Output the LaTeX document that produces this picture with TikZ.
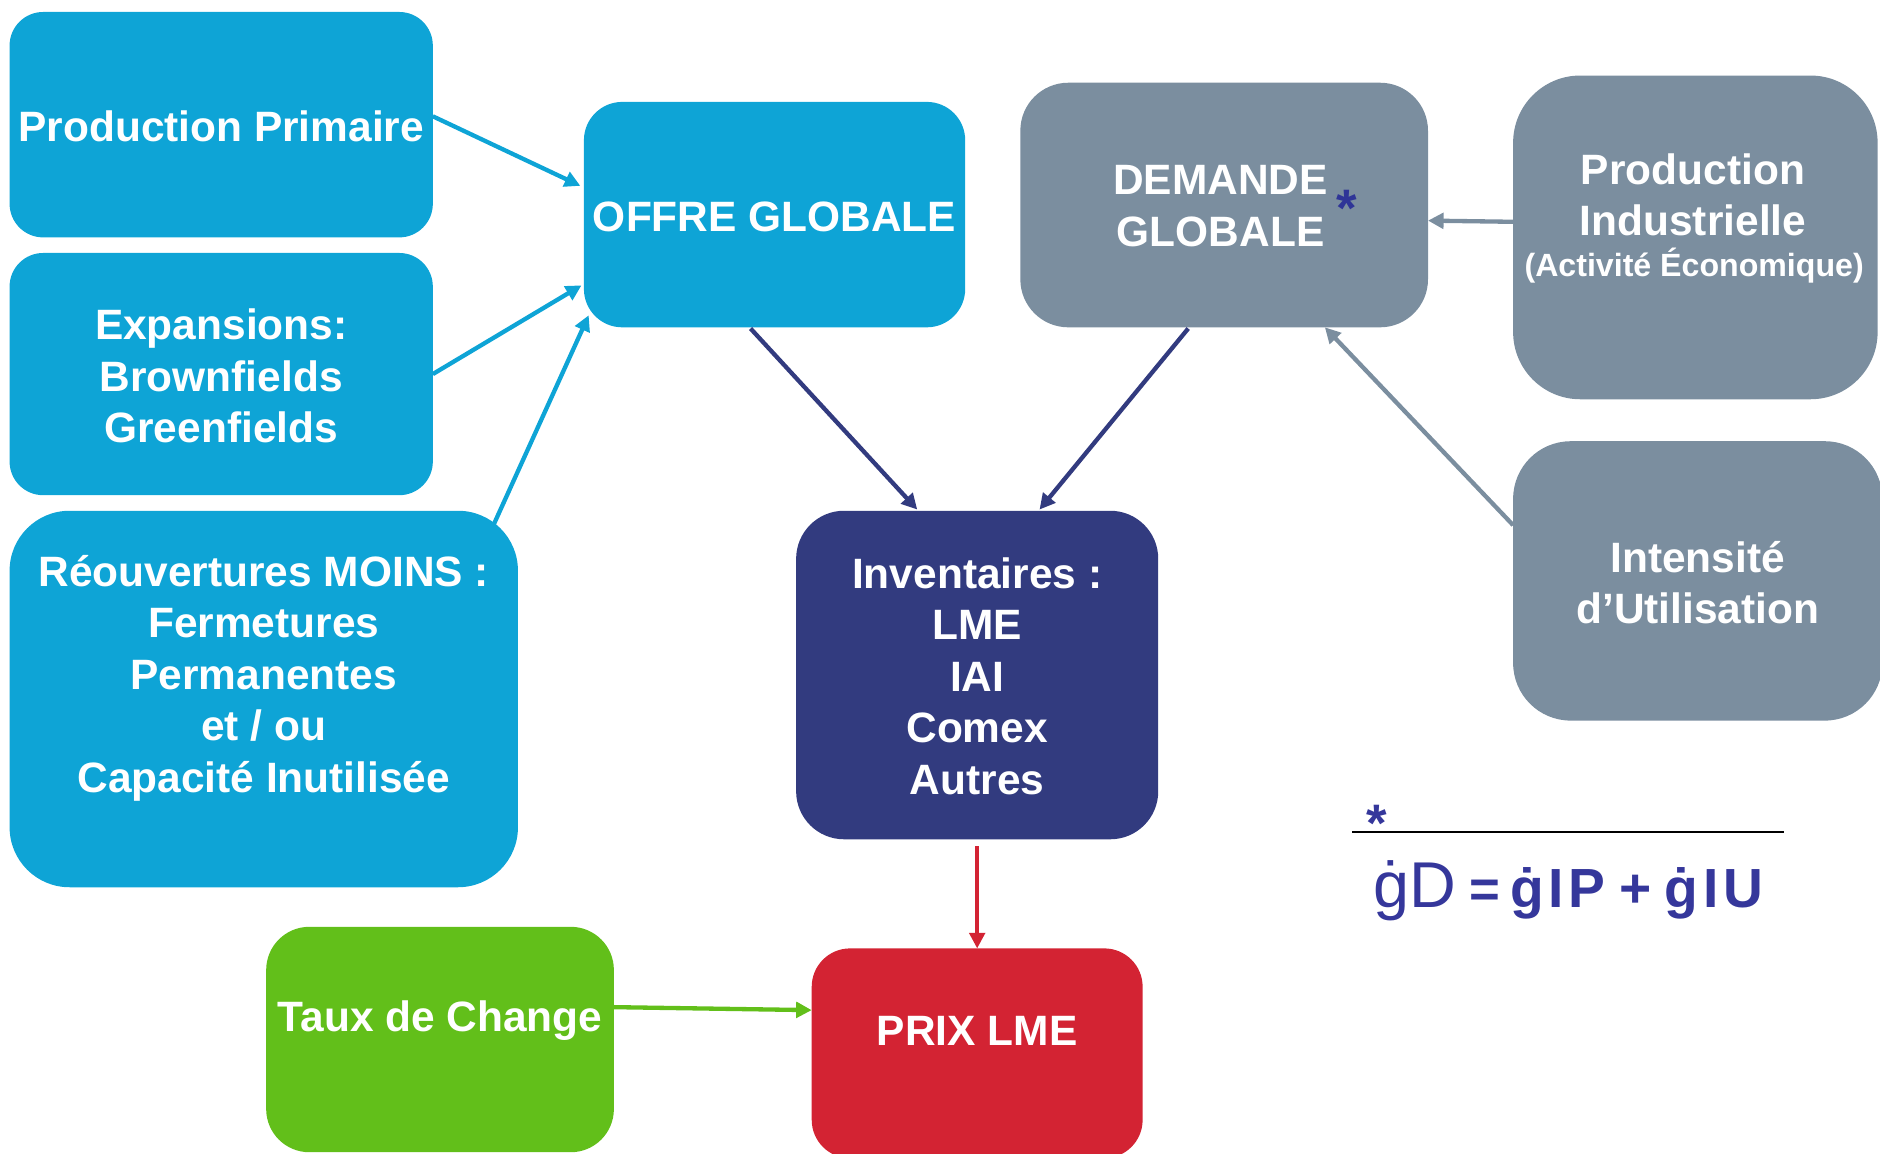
\documentclass[tikz,border=0pt]{standalone}
\usepackage{fontspec}
\setmainfont{Liberation Sans}
\usetikzlibrary{arrows.meta,calc}
\definecolor{cyanb}{HTML}{0EA4D6}
\definecolor{grayb}{HTML}{7B8E9F}
\definecolor{navyb}{HTML}{323B7F}
\definecolor{greenb}{HTML}{62BF1A}
\definecolor{redb}{HTML}{D32333}
\definecolor{formblue}{HTML}{35379B}
\definecolor{starblue}{HTML}{2F3597}
\begin{document}
\begin{tikzpicture}[x=0.5pt,y=-0.5pt,
  box/.style={rectangle, inner sep=0pt, outer sep=0pt, draw=none},
  lbl/.style={text=white, font=\bfseries\fontsize{17.7}{21.5}\selectfont, align=center, inner sep=0pt},
  small/.style={text=white, font=\bfseries\fontsize{13.4}{16}\selectfont, inner sep=0pt},
  ar/.style={line width=1.8pt, -{Triangle[length=6.5pt,width=6.5pt]}},
  star/.style={text=starblue, font=\bfseries\fontsize{22}{22}\selectfont, inner sep=0pt, anchor=base}]
\useasboundingbox (0,0) rectangle (1568,962);
\clip (0,0) rectangle (1568,962);

% boxes
\node[box, fill=cyanb, rounded corners=14pt, minimum width=176.5pt, minimum height=94pt] (pp) at (184.5,104) {};
\node[box, fill=cyanb, rounded corners=14pt, minimum width=176.5pt, minimum height=101pt] (ex) at (184.5,312) {};
\node[box, fill=cyanb, rounded corners=25pt, minimum width=212pt, minimum height=157pt] (re) at (220,583) {};
\node[box, fill=cyanb, rounded corners=16pt, minimum width=159pt, minimum height=94pt] (og) at (646,179) {};
\node[box, fill=grayb, rounded corners=20pt, minimum width=170pt, minimum height=102pt] (dg) at (1021,171) {};
\node[box, fill=grayb, rounded corners=28pt, minimum width=152pt, minimum height=135pt] (pi) at (1414,198) {};
\node[box, fill=grayb, rounded corners=24pt, minimum width=154pt, minimum height=116.5pt] (it) at (1416,484.5) {};
\node[box, fill=navyb, rounded corners=20pt, minimum width=151pt, minimum height=137pt] (inv) at (815,563) {};
\node[box, fill=greenb, rounded corners=18pt, minimum width=145pt, minimum height=94pt] (tc) at (367,867) {};
\node[box, fill=redb, rounded corners=16pt, minimum width=138pt, minimum height=87.5pt] (prix) at (815,878.5) {};

% texts
\node[lbl, anchor=base] (tpp) at (184.5,117.7) {Production Primaire};
\node[lbl] (tex) at (184.5,313.5) {Expansions:\\Brownfields\\Greenfields};
\node[lbl] (tre) at (220,565.7) {Réouvertures MOINS :\\Fermetures\\Permanentes\\et / ou\\Capacité Inutilisée};
\node[lbl, anchor=base] (tog) at (646,192.7) {OFFRE GLOBALE};
\node[lbl] (tdg) at (1018,172) {DEMANDE\\GLOBALE};
\node[star] (sdg) at (1123,189) {*};
\node[lbl] (tpi) at (1412,162.5) {Production\\Industrielle};
\node[small, anchor=base] (tpi2) at (1413,230.6) {(Activité Économique)};
\node[lbl] (tit) at (1416,486) {Intensité\\d’Utilisation};
\node[lbl] (tinv) at (815,564) {Inventaires :\\LME\\IAI\\Comex\\Autres};
\node[lbl, anchor=base] (ttc) at (367,860.7) {Taux de Change};
\node[lbl, anchor=base] (tprix) at (815,871.7) {PRIX LME};

% arrows
\draw[ar, cyanb] ($(pp.east)+(0,-7)$) -- ($(og.west)+(-3,-24)$);
\draw[ar, cyanb] (ex.east) -- ($(og.west)+(-2,59)$);
\draw[ar, cyanb] ($(re.north east)+(-20,11)$) -- ($(og.south west)+(4,-10)$);
\draw[ar, navyb] ($(og.south)+(-20,1)$) -- ($(inv.north)+(-50,-1)$);
\draw[ar, navyb] ($(dg.south)+(-30,1)$) -- ($(inv.north)+(52,-1)$);
\draw[ar, grayb] ($(pi.west)+(0,-13)$) -- ($(dg.east)+(0,13)$);
\draw[ar, grayb] ($(it.north west)+(0,70)$) -- ($(dg.south east)+(-86,0)$);
\draw[ar, redb, line width=1.5pt] ($(inv.south)+(0,6)$) -- (prix.north);
\draw[ar, greenb] ($(tc.east)+(0,-27)$) -- ($(prix.west)+(0,-36)$);

% formula
\node[star, text=formblue] (sf) at (1148,702) {*};
\coordinate (la) at (1128,694);
\coordinate (lb) at (1488,694);
\draw[line width=1pt, black] (la) -- (lb);
\node[inner sep=0pt, anchor=base west, text=formblue, font=\fontsize{27}{27}\selectfont] (fgd) at (1145,757) {ġD};
\node[inner sep=0pt, anchor=base west, text=formblue, font=\bfseries\fontsize{22}{22}\selectfont] (feq) at (1225,757) {=};
\node[inner sep=0pt, anchor=base west, text=formblue, font=\bfseries\fontsize{23}{23}\selectfont] (fip) at (1259,757) {ġ\kern2ptI\kern2ptP};
\node[inner sep=0pt, anchor=base west, text=formblue, font=\bfseries\fontsize{23}{23}\selectfont] (fplus) at (1350,757) {+};
\node[inner sep=0pt, anchor=base west, text=formblue, font=\bfseries\fontsize{23}{23}\selectfont] (fiu) at (1388,757) {ġ\kern2ptI\kern2ptU};
\end{tikzpicture}
\end{document}
